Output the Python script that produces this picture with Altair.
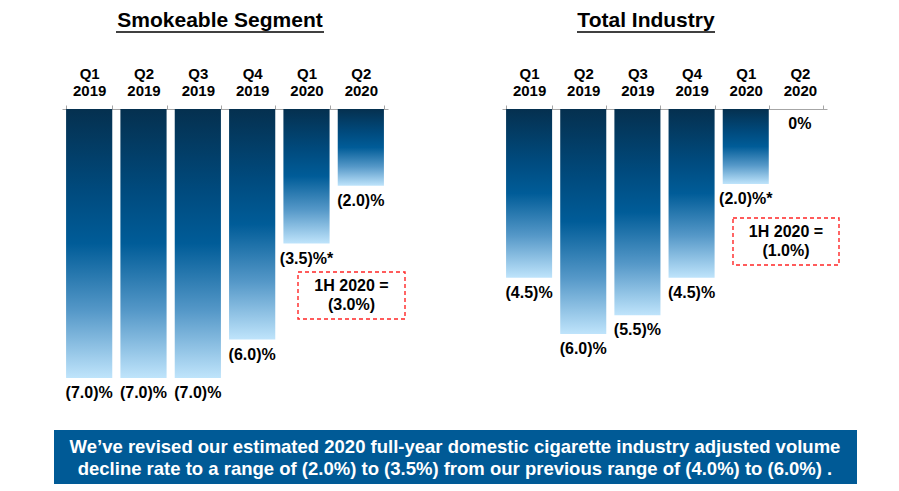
import altair as alt
import pandas as pd

quarters = ["Q1 2019", "Q2 2019", "Q3 2019", "Q4 2019", "Q1 2020", "Q2 2020"]
smokeable_values = [-7.0, -7.0, -7.0, -6.0, -3.5, -2.0]
smokeable_labels = ["(7.0)%", "(7.0)%", "(7.0)%", "(6.0)%", "(3.5)%*", "(2.0)%"]
industry_values = [-4.5, -6.0, -5.5, -4.5, -2.0, 0.0]
industry_labels = ["(4.5)%", "(6.0)%", "(5.5)%", "(4.5)%", "(2.0)%*", "0%"]

smokeable_1h = ["1H 2020 =", "(3.0%)"]
industry_1h = ["1H 2020 =", "(1.0%)"]
banner_text = [
    "We\u2019ve revised our estimated 2020 full-year domestic cigarette industry adjusted volume",
    "decline rate to a range of (2.0%) to (3.5%) from our previous range of (4.0%) to (6.0%) .",
]

FONT = "Liberation Sans, Arial, sans-serif"

bar_gradient = alt.LinearGradient(
    gradient="linear",
    stops=[
        alt.GradientStop(color="#05304f", offset=0),
        alt.GradientStop(color="#004a7d", offset=0.3),
        alt.GradientStop(color="#005c98", offset=0.5),
        alt.GradientStop(color="#5598c8", offset=0.75),
        alt.GradientStop(color="#bfe4fb", offset=1),
    ],
    x1=0, x2=0, y1=0, y2=1,
)

one_row = pd.DataFrame({"k": [0]})


def panel(values, labels, domain_min, title, title_x, line_x, box, box_text):
    df = pd.DataFrame({"quarter": quarters, "value": values, "label": labels})
    x = alt.X(
        "quarter:N", sort=quarters, title=None,
        scale=alt.Scale(paddingInner=0.15, paddingOuter=0.075),
        axis=alt.Axis(
            orient="top", labelAngle=0, labelExpr="split(datum.label, ' ')",
            labelFont=FONT, labelFontSize=15, labelFontWeight="bold",
            labelColor="black", labelLineHeight=17, labelPadding=24,
            domainColor="#a6a6a6", tickColor="#a6a6a6", tickSize=4,
            tickBand="extent",
        ),
    )
    y = alt.Y("value:Q", scale=alt.Scale(domain=[domain_min, 0], nice=False), axis=None)
    base = alt.Chart(df).encode(x=x, y=y)

    bars = base.mark_bar(color=bar_gradient)
    values_text = base.mark_text(
        baseline="middle", dy=15, font=FONT, fontSize=16, fontWeight="bold", color="black"
    ).encode(text="label:N")

    title_mark = alt.Chart(one_row).mark_text(
        font=FONT, fontSize=21, fontWeight="bold", color="black", baseline="middle"
    ).encode(x=alt.value(title_x), y=alt.value(-88), text=alt.value(title))
    underline = alt.Chart(one_row).mark_rule(color="black", strokeWidth=1.5).encode(
        x=alt.value(line_x[0]), x2=alt.value(line_x[1]), y=alt.value(-77)
    )

    bx0, bx1, by0, by1 = box
    box_mark = alt.Chart(one_row).mark_rect(
        fill="white", fillOpacity=0, stroke="#ff2626", strokeWidth=1.4, strokeDash=[4, 3]
    ).encode(x=alt.value(bx0), x2=alt.value(bx1), y=alt.value(by0), y2=alt.value(by1))
    # first line sits on the anchor, the second one below it
    box_label = alt.Chart(one_row).mark_text(
        font=FONT, fontSize=16, fontWeight="bold", color="black",
        baseline="middle", lineHeight=19, text=box_text,
    ).encode(x=alt.value((bx0 + bx1) / 2), y=alt.value((by0 + by1) / 2 - 9.5))

    return alt.layer(bars, values_text, title_mark, underline, box_mark, box_label)


left = panel(smokeable_values, smokeable_labels, -7.0, "Smokeable Segment",
             158, (54, 262), (236, 343, 163, 210), smokeable_1h)
right = panel(industry_values, industry_labels, -7.17, "Total Industry",
              144, (75, 213), (231, 337, 109, 156), industry_1h)

banner = alt.Chart(one_row).mark_rect(color="#005a96").encode(
    x=alt.value(-8), x2=alt.value(795), y=alt.value(321), y2=alt.value(375)
)
banner_label = alt.Chart(one_row).mark_text(
    font=FONT, fontSize=18.5, fontWeight="bold", color="white",
    baseline="middle", lineHeight=22, text=banner_text,
).encode(x=alt.value(393), y=alt.value(338))

left = alt.layer(left, banner, banner_label).properties(width=326, height=269)
right = right.properties(width=325, height=269)

chart = (
    alt.hconcat(left, right, spacing=114, bounds="flush")
    .properties(padding={"left": 46, "top": 2, "right": 5, "bottom": 5})
    .configure_view(stroke=None)
)

chart.save("out.html", embed_options={"renderer": "svg", "actions": False})
